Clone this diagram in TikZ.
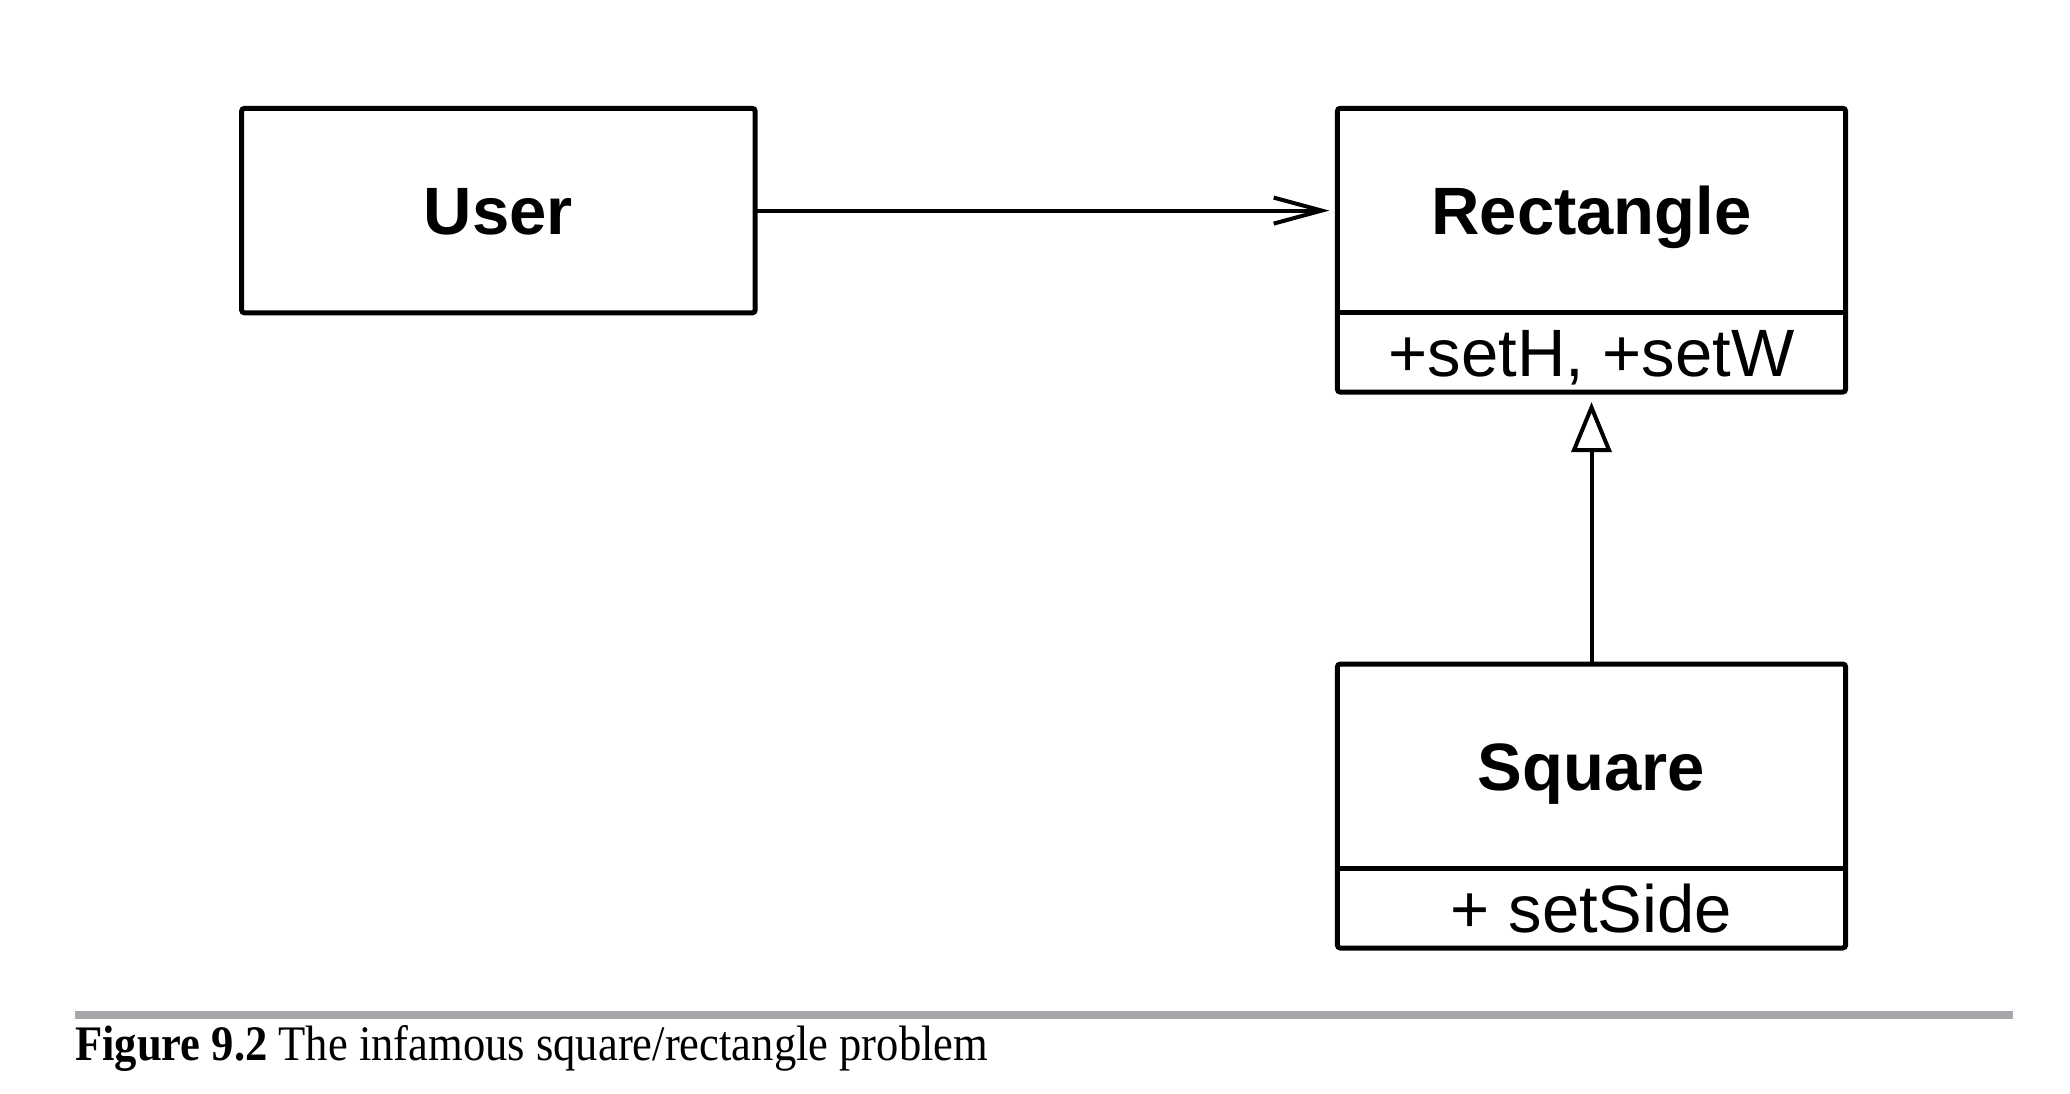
\documentclass[tikz,border=0pt]{standalone}
\usepackage{graphicx}
\usepackage{fontspec}
\setmainfont{Liberation Serif}
\newfontfamily\boxfont{Liberation Sans}
\usetikzlibrary{arrows.meta,calc}
\definecolor{rulegray}{RGB}{166,167,171}
\begin{document}
\begin{tikzpicture}[x=1pt,y=-1pt,
  comp/.style={inner sep=0pt, outer sep=0pt, text height=48pt, text depth=0pt,
               font=\boxfont\fontsize{67}{80}\selectfont},
  namecomp/.style={comp, font=\boxfont\bfseries\fontsize{67}{80}\selectfont},
  frame/.style={draw=black, line width=5pt, rounded corners=3pt},
  divider/.style={draw=black, line width=5pt},
  assoc/.style={draw=black, line width=4pt, -{Straight Barb[length=48pt,width=26pt]}},
  inherit/.style={draw=black, line width=4pt, -{Triangle[open,length=50pt,width=40pt]}}]
\useasboundingbox (0,0) rectangle (2070,1094);
\fill[white] (0,0) rectangle (2070,1094);

% User
\node[namecomp, minimum width=513.6pt, minimum height=204.6pt] (user) at (498.4,210.6) {User};
\draw[frame] (user.north west) rectangle (user.south east);

% Rectangle
\node[namecomp, minimum width=508.3pt, minimum height=204.6pt] (rect) at (1591.5,210.6) {Rectangle};
\node[comp, minimum width=508.3pt, minimum height=79.2pt] (recto) at (1591.5,352.5) {+setH, +setW};
\draw[frame] (rect.north west) rectangle (recto.south east);
\draw[divider] (rect.south west) -- (rect.south east);

% Square
\node[namecomp, minimum width=508.3pt, minimum height=204.7pt] (sq) at (1591.5,766.35) {Square};
\node[comp, minimum width=508.3pt, minimum height=79.3pt] (sqo) at (1591.5,908.35) {+ setSide};
\draw[frame] (sq.north west) rectangle (sqo.south east);
\draw[divider] (sq.south west) -- (sq.south east);

% connectors
\draw[assoc] (user.east) -- ($(rect.west)+(-8,0)$);
\draw[inherit] (sq.north) -- ($(recto.south)+(0,10)$);

% caption
\draw[rulegray, line width=8pt] (75,1014.5) -- (2013,1014.5);
\node[anchor=base west, inner sep=0pt] (cap) at (75,1060)
  {\resizebox{913pt}{35pt}{\textbf{Figure 9.2} The infamous square/rectangle problem}};
\end{tikzpicture}
\end{document}
